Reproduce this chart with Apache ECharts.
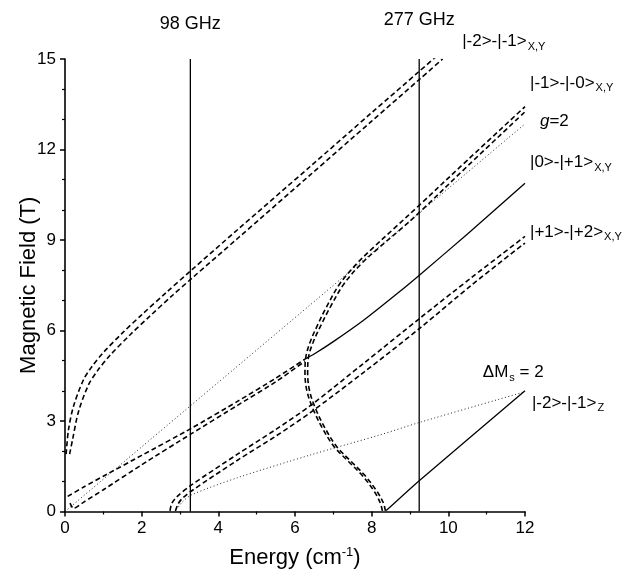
<!DOCTYPE html>
<html><head><meta charset="utf-8">
<script src="https://cdn.jsdelivr.net/npm/echarts@6/dist/echarts.min.js"></script>
<style>html,body{margin:0;padding:0;background:#fff}#c{width:629px;height:571px}</style>
</head><body><div id="c"></div>
<script>
// ---- data (Energy cm^-1, Field T) ----
const freqNames = ['98 GHz', '277 GHz'];
const freqEnergies = [3.27, 9.24];
const fieldRange = [0, 15];

// |-2>-|-1> X,Y pair
const curveA1 = [[0.03,1.9],[0.09,2.7],[0.22,3.48],[0.48,4.36],[0.7,4.8],[1.0,5.27],[1.5,5.92],[2.0,6.52],[2.65,7.27],[3.27,7.97],[4.5,9.34],[6.4,11.44],[8.0,13.22],[9.24,14.59],[9.7,15.1]];
const curveA2 = [[0.12,1.9],[0.2,2.4],[0.35,3.3],[0.61,4.19],[0.85,4.67],[1.17,5.17],[1.7,5.86],[2.2,6.46],[2.8,7.16],[3.3,7.72],[4.5,9.05],[6.39,11.15],[8.0,12.94],[9.26,14.34],[9.85,15.0]];
// low-field |0>-|+1> dashed pair (to junction)
const curveB1 = [[0.07,0.5],[0.5,0.82],[1.0,1.17],[2.0,1.86],[3.3,2.76],[4.5,3.65],[5.5,4.42],[6.26,5.05]];
const curveB2 = [[0.13,0.28],[0.22,0.1],[0.5,0.32],[1.0,0.72],[2.0,1.55],[3.3,2.58],[4.5,3.52],[5.5,4.3],[6.26,4.98]];
// |0>-|+1> X,Y solid
const curveE = [[6.26,5.05],[6.5,5.22],[7.0,5.63],[7.78,6.33],[8.74,7.3],[9.26,7.85],[10.5,9.2],[12.0,10.88]];
// |+1>-|+2> X,Y pair
const curveC1 = [[2.74,0.02],[2.78,0.25],[2.91,0.48],[3.3,0.88],[4.5,1.9],[5.5,2.72],[6.39,3.5],[7.8,4.92],[9.26,6.41],[10.6,7.75],[12.0,9.12]];
const curveC2 = [[2.88,0.02],[2.95,0.25],[3.05,0.42],[3.3,0.68],[4.5,1.7],[5.5,2.5],[6.39,3.27],[7.8,4.62],[9.26,6.08],[10.6,7.5],[12.0,8.9]];
// |-1>-|-0> X,Y pair (S-shaped)
const curveD1 = [[8.28,0.02],[8.22,0.3],[8.05,0.7],[7.75,1.2],[7.4,1.65],[7.02,2.15],[6.72,2.75],[6.47,3.4],[6.31,4.0],[6.26,4.6],[6.28,5.1],[6.39,5.6],[6.57,6.13],[6.83,6.8],[7.17,7.55],[7.6,8.2],[8.0,8.7],[8.6,9.4],[9.24,10.15],[10.5,11.65],[12.0,13.42]];
const curveD2 = [[8.36,0.02],[8.3,0.3],[8.12,0.7],[7.82,1.2],[7.47,1.65],[7.09,2.15],[6.79,2.75],[6.54,3.4],[6.38,4.0],[6.33,4.6],[6.35,5.1],[6.47,5.6],[6.66,6.13],[6.93,6.8],[7.28,7.55],[7.72,8.2],[8.15,8.7],[8.75,9.35],[9.3,9.98],[10.5,11.45],[12.0,13.25]];
// g=2 dotted
const lineG2 = [[0,0],[12,12.85]];
// Delta Ms = 2 dotted
const lineDMs2 = [[2.9,0.05],[3.05,0.3],[3.3,0.55],[4.5,1.12],[6.39,1.87],[8.22,2.54],[9.24,2.95],[12.0,3.97]];
// |-2>-|-1> Z solid
const curveZ = [[8.38,0.03],[9.24,1.02],[12.0,4.0]];

// annotation texts and their anchors (data coordinates)
const labelTexts = ['|-2>-|-1>{sub|X,Y}', '|-1>-|-0>{sub|X,Y}', '{it|g}=2', '|0>-|+1>{sub|X,Y}', '|+1>-|+2>{sub|X,Y}', '\u0394M{sub|s} = 2', '|-2>-|-1>{sub|Z}'];
const labelAnchors = [[10.36,15.57],[12.13,14.2],[12.39,12.92],[12.13,11.56],[12.13,9.27],[10.9,4.6],[12.18,3.6]];

const FONT = '"Liberation Sans", Arial, Helvetica, sans-serif';
const chart = echarts.init(document.getElementById('c'), null, {renderer: 'canvas'});

const styles = {
  dash:  {color: '#000', width: 1.6, type: [5, 3]},
  solid: {color: '#000', width: 1.3, type: 'solid'},
  dot:   {color: '#222', width: 1, type: [1, 2.5]},
  vline: {color: '#000', width: 1.3, type: 'solid'}
};
function mk(data, kind, smooth) {
  return {type: 'line', data: data, showSymbol: false, symbol: 'none', smooth: smooth || false,
    lineStyle: styles[kind], silent: true, animation: false, z: kind === 'vline' ? 1 : 2};
}
const series = [
  mk(curveA1, 'dash', 0.3), mk(curveA2, 'dash', 0.3),
  mk(curveB1, 'dash', 0.2), mk(curveB2, 'dash', 0.2),
  mk(curveE, 'solid', 0.2),
  mk(curveC1, 'dash', 0.3), mk(curveC2, 'dash', 0.3),
  mk(curveD1, 'dash', 0.35), mk(curveD2, 'dash', 0.35),
  mk(lineG2, 'dot'), mk(lineDMs2, 'dot', 0.3),
  mk(curveZ, 'solid', 0.2)
];
freqEnergies.forEach(function (e) {
  series.push(mk([[e, fieldRange[0]], [e, fieldRange[1]]], 'vline'));
});

chart.setOption({
  animation: false,
  backgroundColor: '#fff',
  grid: {left: 65, right: 104, top: 59, bottom: 59.5, containLabel: false, outerBoundsMode: 'none'},
  xAxis: {
    type: 'value', min: 0, max: 12, interval: 2,
    name: 'Energy (cm{sup|-1})', nameLocation: 'middle', nameGap: 34, nameMoveOverlap: false,
    nameTextStyle: {fontFamily: FONT, fontSize: 22, color: '#000',
      rich: {sup: {fontFamily: FONT, fontSize: 13, color: '#000', padding: [0, 0, 11, 0]}}},
    axisLine: {lineStyle: {color: '#000', width: 1.6}},
    axisTick: {inside: false, length: 5, lineStyle: {color: '#000', width: 1.5}},
    minorTick: {show: true, splitNumber: 2, length: 3, lineStyle: {color: '#000', width: 1.2}},
    axisLabel: {fontFamily: FONT, fontSize: 17, color: '#000', margin: 8},
    splitLine: {show: false}
  },
  yAxis: {
    type: 'value', min: 0, max: 15, interval: 3,
    name: 'Magnetic Field (T)', nameLocation: 'middle', nameGap: 25, nameMoveOverlap: false,
    nameTextStyle: {fontFamily: FONT, fontSize: 22, color: '#000'},
    axisLine: {show: true, lineStyle: {color: '#000', width: 1.6}},
    axisTick: {show: true, inside: false, length: 5, lineStyle: {color: '#000', width: 1.5}},
    minorTick: {show: true, splitNumber: 3, length: 3, lineStyle: {color: '#000', width: 1.2}},
    axisLabel: {fontFamily: FONT, fontSize: 17, color: '#000', margin: 9},
    splitLine: {show: false}
  },
  series: series
});

// annotations positioned through the axes
const graphics = [];
freqNames.forEach(function (name, i) {
  const p = chart.convertToPixel({gridIndex: 0}, [freqEnergies[i], fieldRange[1]]);
  graphics.push({type: 'text', x: p[0], y: p[1] - (i === 0 ? 35 : 39), silent: true,
    style: {text: name, font: '18px ' + FONT, fill: '#000', align: 'center', verticalAlign: 'middle'}});
});
labelTexts.forEach(function (t, i) {
  const p = chart.convertToPixel({gridIndex: 0}, labelAnchors[i]);
  graphics.push({type: 'text', x: p[0], y: p[1], silent: true,
    style: {text: t, font: '17px ' + FONT, fill: '#000', align: 'left', verticalAlign: 'middle',
      rich: {
        sub: {fontFamily: FONT, fontSize: 11, fill: '#000', padding: [10, 0, 0, 1]},
        it: {fontFamily: FONT, fontSize: 17, fontStyle: 'italic', fill: '#000'}
      }}});
});
chart.setOption({graphic: graphics});
</script>
</body></html>
